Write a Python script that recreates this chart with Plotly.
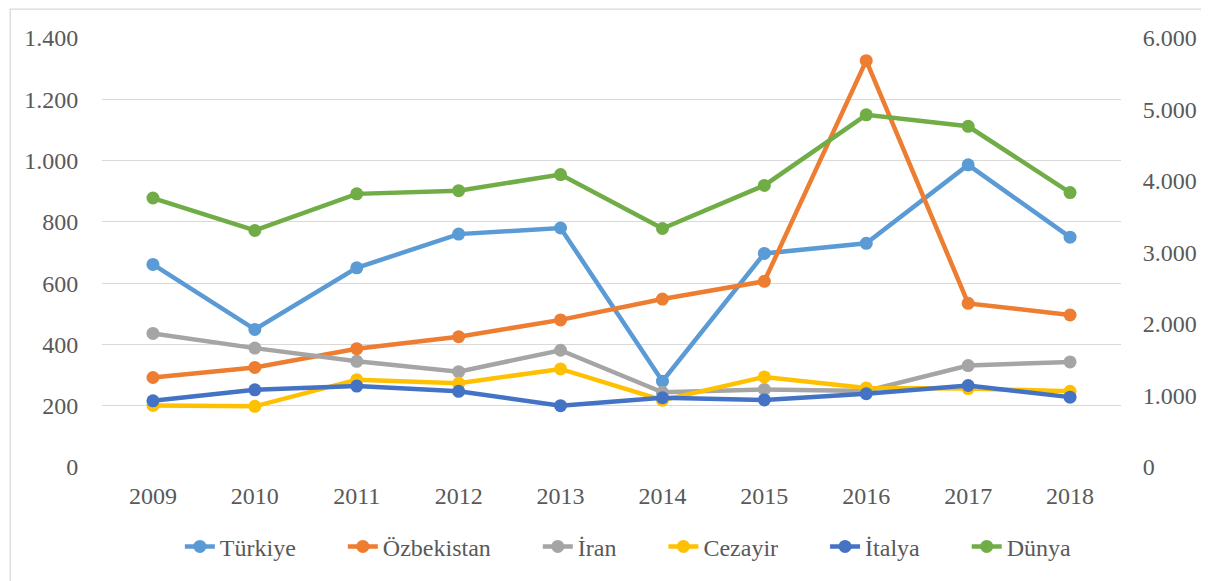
import plotly.graph_objects as go

years = ["2009", "2010", "2011", "2012", "2013", "2014", "2015", "2016", "2017", "2018"]

turkiye = [661, 449, 650, 760, 780, 280, 697, 730, 986, 750]
ozbekistan = [292, 325, 386, 425, 480, 548, 606, 1326, 534, 496]
iran = [436, 388, 345, 311, 381, 244, 253, 248, 331, 343]
cezayir = [201, 198, 285, 273, 320, 218, 294, 258, 256, 247]
italya = [216, 252, 264, 247, 200, 226, 219, 239, 266, 228]
dunya = [3762, 3308, 3820, 3865, 4090, 3336, 3938, 4926, 4765, 3838]

left_ticks = [0, 200, 400, 600, 800, 1000, 1200, 1400]
left_labels = ["0", "200", "400", "600", "800", "1.000", "1.200", "1.400"]
right_ticks = [0, 1000, 2000, 3000, 4000, 5000, 6000]
right_labels = ["0", "1.000", "2.000", "3.000", "4.000", "5.000", "6.000"]

series = [
    ("Türkiye", turkiye, "#5B9BD5", "y"),
    ("Özbekistan", ozbekistan, "#ED7D31", "y"),
    ("İran", iran, "#A5A5A5", "y"),
    ("Cezayir", cezayir, "#FFC000", "y"),
    ("İtalya", italya, "#4472C4", "y"),
    ("Dünya", dunya, "#70AD47", "y2"),
]

pad = "\u00a0" * 7

fig = go.Figure()
for name, vals, color, ax in series:
    fig.add_trace(go.Scatter(
        x=years, y=vals, name=name + pad, yaxis=ax,
        mode="lines+markers",
        line=dict(color=color, width=4.5),
        marker=dict(color=color, size=13),
    ))

font_family = "Liberation Serif"
fs = 24

fig.update_layout(
    width=1201, height=573,
    margin=dict(l=94, r=86, t=30, b=113),
    paper_bgcolor="white", plot_bgcolor="white",
    font=dict(family=font_family, size=fs, color="#595959"),
    showlegend=True,
    legend=dict(orientation="h", x=0.0764, xanchor="left", y=-0.186, yanchor="middle",
                font=dict(family=font_family, size=fs, color="#595959"),
                tracegroupgap=0),
    xaxis=dict(
        type="category", range=[-0.5, 9.5],
        showgrid=False, zeroline=False, showline=False,
        ticks="outside", ticklen=7, tickcolor="rgba(0,0,0,0)",
        tickfont=dict(family=font_family, size=fs, color="#595959"),
    ),
    yaxis=dict(
        range=[0, 1400], tickvals=left_ticks, ticktext=left_labels,
        showgrid=True, gridcolor="#D9D9D9", gridwidth=1.3,
        zeroline=False, showline=False,
        ticks="outside", ticklen=18, tickcolor="rgba(0,0,0,0)",
        tickfont=dict(family=font_family, size=fs, color="#595959"),
    ),
    yaxis2=dict(
        range=[0, 6000], tickvals=right_ticks, ticktext=right_labels,
        overlaying="y", side="right",
        showgrid=False, zeroline=False, showline=False,
        ticks="outside", ticklen=16, tickcolor="rgba(0,0,0,0)",
        tickfont=dict(family=font_family, size=fs, color="#595959"),
    ),
    shapes=[dict(type="rect", xref="paper", yref="paper",
                 x0=-0.0901, x1=1.09, y0=-0.2837, y1=1.0674,
                 line=dict(color="#D9D9D9", width=1.3), layer="below")],
)

fig.write_html("out.html")
